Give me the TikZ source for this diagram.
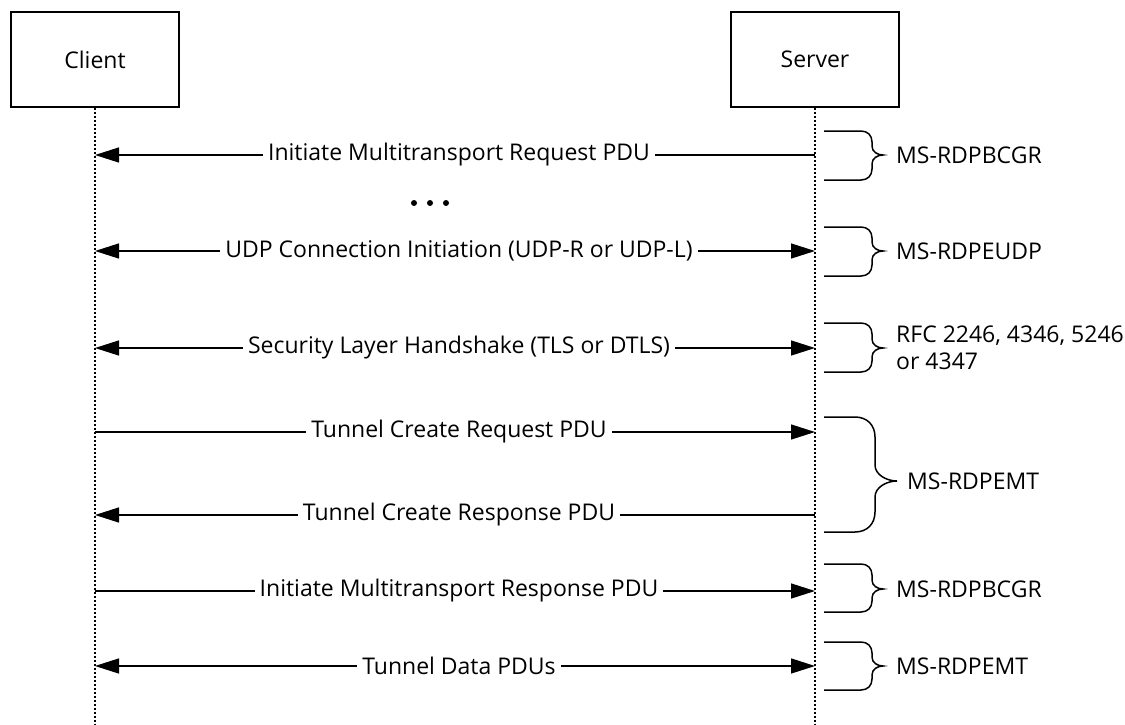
\documentclass[tikz,border=0pt]{standalone}
\usepackage{fontspec}
\setmainfont{Open Sans}
\usetikzlibrary{arrows.meta}
\newcommand{\drawbrace}[6]{%
  \draw[brc] (824,#1) -- (#4-#6,#1) .. controls (#4-#6*0.4,#1) and (#4,#1+#6*0.4) .. (#4,#1+#6)
    -- (#4,#3-#6*0.8) .. controls (#4,#3-#6*0.3) and (#5-#6*0.5,#3) .. (#5,#3)
    .. controls (#5-#6*0.5,#3) and (#4,#3+#6*0.3) .. (#4,#3+#6*0.8)
    -- (#4,#2-#6) .. controls (#4,#2-#6*0.4) and (#4-#6*0.4,#2) .. (#4-#6,#2) -- (824,#2);}
\begin{document}
\begin{tikzpicture}[x=1pt,y=-1pt,
  font=\fontsize{23}{27}\selectfont,
  actor/.style={draw, line width=1.5pt, minimum width=168pt, minimum height=95pt, inner sep=0pt},
  life/.style={line width=1.5pt, dash pattern=on 2pt off 2pt},
  msg/.style={line width=1.4pt},
  tipl/.style={{Triangle[length=24pt,width=15pt]}-},
  tipr/.style={-{Triangle[length=24pt,width=15pt]}},
  tipb/.style={{Triangle[length=24pt,width=15pt]}-{Triangle[length=24pt,width=15pt]}},
  lbl/.style={fill=white, inner sep=5pt, xshift=4pt},
  brc/.style={line width=1.5pt},
  note/.style={anchor=west, align=left, inner sep=0pt}]
\useasboundingbox (0,0) rectangle (1125,725);
\fill[white] (0,0) rectangle (1125,725);
% actors
\node[actor] (client) at (95,59.5) {Client};
\node[actor] (server) at (815,59.5) {Server};
\coordinate (cend) at (95,725);
\coordinate (send) at (815,725);
\draw[life] (client.south) -- (cend);
\draw[life] (server.south) -- (send);
% message anchor points
\foreach \n/\y in {1/155,2/251,3/348,4/432,5/515,6/591,7/666}{
  \coordinate (c\n) at (95,\y);
  \coordinate (s\n) at (815,\y);
}
\draw[msg,tipl] (c1) -- node[lbl] {Initiate Multitransport Request PDU} (s1);
\draw[msg,tipb] (c2) -- node[lbl] {UDP Connection Initiation (UDP-R or UDP-L)} (s2);
\draw[msg,tipb] (c3) -- node[lbl] {Security Layer Handshake (TLS or DTLS)} (s3);
\draw[msg,tipr] (c4) -- node[lbl] {Tunnel Create Request PDU} (s4);
\draw[msg,tipl] (c5) -- node[lbl] {Tunnel Create Response PDU} (s5);
\draw[msg,tipr] (c6) -- node[lbl] {Initiate Multitransport Response PDU} (s6);
\draw[msg,tipb] (c7) -- node[lbl] {Tunnel Data PDUs} (s7);
% ellipsis
\foreach \x in {414,430,446}{\fill (\x,203) circle (3pt);}
% braces
\drawbrace{131}{180}{155}{872}{883}{11}
\drawbrace{227}{276}{251}{872}{883}{11}
\drawbrace{323}{372}{348}{872}{883}{11}
\drawbrace{417}{532}{481}{875}{897}{20}
\drawbrace{564}{612}{589}{872}{883}{11}
\drawbrace{642}{690}{666}{872}{883}{11}
\node[note] (n1) at (896,155) {MS-RDPBCGR};
\node[note] (n2) at (896,251) {MS-RDPEUDP};
\node[note] (n3) at (896,348) {RFC 2246, 4346, 5246\\or 4347};
\node[note] (n4) at (907,481) {MS-RDPEMT};
\node[note] (n5) at (896,589) {MS-RDPBCGR};
\node[note] (n6) at (896,666) {MS-RDPEMT};
\end{tikzpicture}
\end{document}
